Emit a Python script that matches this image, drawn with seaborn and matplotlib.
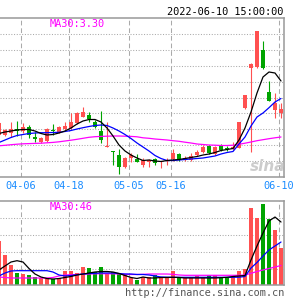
import matplotlib

matplotlib.use("Agg")
import matplotlib.pyplot as plt
import matplotlib.transforms as mtransforms
import numpy as np
import pandas as pd
import seaborn as sns

# ===========================================================
# 数据（从图上读取的日K线 + 均线 + 成交量）
# ===========================================================
dates = [
    "03-29", "03-30", "03-31", "04-01", "04-06", "04-07", "04-08", "04-11",
    "04-12", "04-13", "04-14", "04-15", "04-18", "04-19", "04-20", "04-21",
    "04-22", "04-25", "04-26", "04-27", "04-28", "04-29", "05-05", "05-06",
    "05-09", "05-10", "05-11", "05-12", "05-13", "05-16", "05-17", "05-18",
    "05-19", "05-20", "05-23", "05-24", "05-25", "05-26", "05-27", "05-30",
    "05-31", "06-01", "06-02", "06-06", "06-07", "06-08", "06-09", "06-10",
]
opens = [
    3.32, 3.32, 3.34, 3.38, 3.36, 3.40, 3.30, 3.25, 3.26, 3.37, 3.35, 3.38,
    3.39, 3.44, 3.50, 3.52, 3.45, 3.36, 3.20, 3.16, 3.12, 3.00, 3.09, 3.08,
    3.02, 3.05, 3.08, 3.05, 3.06, 3.08, 3.13, 3.08, 3.07, 3.12, 3.15, 3.21,
    3.13, 3.22, 3.19, 3.18, 3.19, 3.59, 3.99, 4.00, 4.17, 3.75, 3.57, 3.54,
]
highs = [
    3.45, 3.38, 3.45, 3.46, 3.44, 3.42, 3.35, 3.30, 3.39, 3.43, 3.41, 3.45,
    3.54, 3.55, 3.60, 3.55, 3.47, 3.56, 3.45, 3.16, 3.18, 3.10, 3.14, 3.13,
    3.09, 3.08, 3.09, 3.06, 3.09, 3.18, 3.14, 3.11, 3.14, 3.17, 3.22, 3.22,
    3.21, 3.23, 3.21, 3.25, 3.45, 3.72, 4.04, 4.36, 4.26, 3.86, 3.74, 3.64,
]
lows = [
    3.31, 3.31, 3.30, 3.31, 3.34, 3.29, 3.25, 3.24, 3.25, 3.32, 3.34, 3.37,
    3.38, 3.43, 3.50, 3.45, 3.39, 3.24, 3.20, 3.02, 2.93, 2.99, 3.05, 3.05,
    3.00, 3.00, 3.02, 2.99, 3.02, 3.06, 3.06, 3.06, 3.06, 3.11, 3.14, 3.13,
    3.12, 3.16, 3.16, 3.17, 3.19, 3.58, 3.15, 3.99, 3.98, 3.66, 3.49, 3.49,
]
closes = [
    3.44, 3.37, 3.38, 3.36, 3.40, 3.32, 3.28, 3.29, 3.38, 3.36, 3.40, 3.41,
    3.45, 3.54, 3.55, 3.48, 3.40, 3.27, 3.21, 3.15, 3.00, 3.09, 3.12, 3.05,
    3.07, 3.07, 3.04, 3.06, 3.07, 3.14, 3.07, 3.09, 3.11, 3.15, 3.20, 3.14,
    3.20, 3.17, 3.18, 3.20, 3.45, 3.72, 4.03, 4.36, 3.99, 3.66, 3.64, 3.58,
]
ma5 = [
    3.335, 3.35, 3.36, 3.37, 3.375, 3.375, 3.36, 3.335, 3.32, 3.325, 3.34, 3.36,
    3.39, 3.43, 3.46, 3.475, 3.475, 3.45, 3.39, 3.31, 3.22, 3.16, 3.12, 3.09,
    3.065, 3.07, 3.06, 3.055, 3.065, 3.07, 3.075, 3.085, 3.095, 3.105, 3.12, 3.13,
    3.145, 3.165, 3.175, 3.185, 3.27, 3.39, 3.55, 3.74, 3.90, 3.95, 3.94, 3.86,
]
ma10 = [
    3.245, 3.27, 3.295, 3.315, 3.325, 3.335, 3.34, 3.343, 3.343, 3.345, 3.347, 3.355,
    3.365, 3.38, 3.393, 3.405, 3.415, 3.42, 3.415, 3.39, 3.36, 3.325, 3.285, 3.24,
    3.20, 3.16, 3.115, 3.085, 3.065, 3.065, 3.07, 3.075, 3.08, 3.085, 3.09, 3.10,
    3.11, 3.13, 3.145, 3.155, 3.23, 3.30, 3.41, 3.50, 3.54, 3.593, 3.65, 3.685,
]
ma30 = [
    3.212, 3.217, 3.223, 3.228, 3.232, 3.234, 3.236, 3.238, 3.242, 3.246, 3.252, 3.26,
    3.268, 3.277, 3.287, 3.297, 3.303, 3.306, 3.308, 3.31, 3.31, 3.308, 3.306, 3.302,
    3.292, 3.287, 3.28, 3.275, 3.27, 3.263, 3.257, 3.248, 3.24, 3.23, 3.225, 3.22,
    3.218, 3.215, 3.215, 3.218, 3.227, 3.238, 3.25, 3.263, 3.273, 3.283, 3.292, 3.30,
]
volume = [
    103, 72, 48, 29, 26, 23, 19, 16, 17, 15, 16, 33,
    33, 29, 43, 40, 31, 43, 26, 31, 26, 26, 17, 13,
    20, 19, 23, 19, 19, 33, 19, 16, 17, 21, 19, 23,
    23, 19, 16, 19, 34, 39, 181, 157, 190, 155, 130, 87,
]
vol_ma5 = [
    35.8, 45.2, 54.5, 57.6, 54.5, 39.3, 26.4, 19.4, 15.9, 14.7, 15.9, 18.3,
    20.6, 24.1, 26.4, 28.8, 31.1, 32.3, 32.3, 31.1, 27.6, 22.9, 18.3, 15.9,
    19.4, 17.1, 17.1, 18.3, 18.3, 18.7, 18.3, 17.1, 17.1, 17.1, 17.1, 17.1,
    17.1, 17.8, 18.7, 20.6, 21.8, 22.9, 59.2, 92.0, 122.4, 150.5, 159.8, 148.1,
]
vol_ma10 = [
    21.8, 28.8, 33.5, 34.2, 34.2, 34.2, 34.2, 34.2, 34.2, 31.1, 24.1, 21.8,
    22.9, 24.8, 26.4, 27.6, 28.1, 28.8, 28.8, 28.8, 27.6, 26.4, 26.4, 25.3,
    25.3, 24.1, 21.8, 19.4, 19.0, 18.7, 18.7, 18.7, 18.7, 18.7, 18.7, 18.7,
    18.7, 18.7, 18.7, 18.7, 19.0, 20.6, 40.5, 53.4, 68.6, 82.6, 92.0, 101.3,
]
vol_ma30 = [
    19.4, 18.3, 17.1, 17.1, 17.1, 17.1, 17.1, 17.1, 17.1, 18.3, 21.8, 24.1,
    24.8, 25.3, 26.0, 26.4, 26.9, 27.1, 27.1, 26.9, 26.4, 26.0, 25.3, 25.3,
    25.7, 26.4, 26.4, 26.4, 26.4, 25.7, 24.1, 23.4, 23.4, 23.4, 23.4, 23.4,
    23.4, 23.4, 23.4, 23.4, 23.4, 24.1, 28.1, 32.3, 35.8, 39.3, 42.8, 46.3,
]
label_dates = ["04-06", "04-18", "05-05", "05-16", "06-10"]

df = pd.DataFrame({
    "date": dates, "open": opens, "high": highs, "low": lows, "close": closes,
    "ma5": ma5, "ma10": ma10, "ma30": ma30,
    "vol": volume, "vma5": vol_ma5, "vma10": vol_ma10, "vma30": vol_ma30,
})
df["i"] = np.arange(len(df))
df["dir"] = np.where(df["close"] >= df["open"], "up", "down")

# ===========================================================
# 风格
# ===========================================================
sns.set_theme(style="white")
plt.rcParams["font.family"] = ["DejaVu Sans Mono", "DejaVu Sans"]

RED = "#ff5050"
GREEN = "#00a400"
GRID = "#aaaaaa"
BORDER = "#999999"
palette = {"up": RED, "down": GREEN}

fig = plt.figure(figsize=(3, 3), dpi=100)
ax = fig.add_axes([0, 1 - 177 / 300, 284 / 300, 159 / 300])
axv = fig.add_axes([0, 1 - 285.3 / 300, 284 / 300, 84 / 300])

xlim = (1 / 6, 47.5)
price_lim = (2.90, 4.49)
vol_lim = (0, 196.6)

# 网格线
label_pos = [df.index[df["date"] == d][0] - 1 / 3 for d in label_dates]
for a, lim, n in [(ax, price_lim, 10), (axv, vol_lim, 5)]:
    for yv in np.linspace(lim[0], lim[1], n + 1)[1:-1]:
        a.axhline(yv, color=GRID, lw=0.75, ls=(0, (1, 1.6)), zorder=0)
    for xv in label_pos:
        a.axvline(xv, color=GRID, lw=0.75, ls=(0, (4.5, 2.8)), zorder=0)

# K线
colors = df["dir"].map(palette)
body_lo = np.minimum(df["open"], df["close"])
body_h = np.maximum((df["close"] - df["open"]).abs(), 0.008)
ax.vlines(df["i"], df["low"], df["high"], colors=colors, lw=0.8, zorder=2)
ax.bar(df["i"], body_h, bottom=body_lo, width=0.75, color=colors, lw=0, zorder=2)

# 均线
for col, c in [("ma30", "#ff00ff"), ("ma10", "#0000ff"), ("ma5", "black")]:
    sns.lineplot(data=df, x="i", y=col, color=c, lw=0.9, ax=ax, legend=False, zorder=3)

# 成交量
sns.barplot(data=df, x="i", y="vol", hue="dir", palette=palette, native_scale=True,
            dodge=False, width=0.75, saturation=1, linewidth=0, errorbar=None,
            legend=False, ax=axv, zorder=2)
for col, c in [("vma30", "#ff00ff"), ("vma10", "#0000ff"), ("vma5", "black")]:
    sns.lineplot(data=df, x="i", y=col, color=c, lw=0.9, ax=axv, legend=False, zorder=3)

for a, lim in [(ax, price_lim), (axv, vol_lim)]:
    a.set_xlim(*xlim)
    a.set_ylim(*lim)
    a.set_xticks([])
    a.set_yticks([])
    a.set_xlabel("")
    a.set_ylabel("")
    a.spines["left"].set_visible(False)
    for s in ["top", "right", "bottom"]:
        a.spines[s].set_color(BORDER)
        a.spines[s].set_linewidth(1.1)
    a.set_facecolor("white")

# 日期标签
trans = mtransforms.blended_transform_factory(ax.transData, fig.transFigure)
for d, xv in zip(label_dates, label_pos):
    ax.text(xv, 1 - 189.3 / 300, d, transform=trans, ha="center", va="baseline",
            fontsize=7.4, color="#1a8cff", clip_on=False)

# 文字
fig.text(50 / 300, 1 - 27.3 / 300, f"MA30:{ma30[-1]:.2f}", color="#ff00ff",
         fontsize=7.4, ha="left", va="baseline")
fig.text(283.5 / 300, 1 - 15 / 300, "2022-06-10 15:00:00", color="black",
         fontsize=7.4, ha="right", va="baseline")
fig.text(50 / 300, 1 - 209.7 / 300, f"MA30:{vol_ma30[-1]:.0f}", color="#ff00ff",
         fontsize=7.4, ha="left", va="baseline")
fig.text(284 / 300, 1 - 296.5 / 300, "http://finance.sina.com.cn", color="#555555",
         fontsize=7.4, ha="right", va="baseline")
fig.text(268 / 300, 1 - 171 / 300, "sina", color="#c4c4c4", fontsize=11,
         fontweight="bold", style="italic", ha="center", va="baseline",
         family="DejaVu Sans", alpha=0.85)

fig.savefig("out.png", dpi=100)
